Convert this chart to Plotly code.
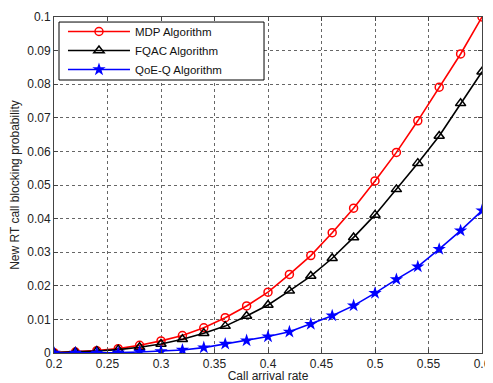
import plotly.graph_objects as go

x_rate = [0.20, 0.22, 0.24, 0.26, 0.28, 0.30, 0.32, 0.34, 0.36, 0.38, 0.40,
          0.42, 0.44, 0.46, 0.48, 0.50, 0.52, 0.54, 0.56, 0.58, 0.60]
mdp = [0.0001, 0.0003, 0.0007, 0.0013, 0.0023, 0.0036, 0.0052, 0.0075, 0.0105, 0.0140, 0.0181,
       0.0234, 0.0290, 0.0358, 0.0431, 0.0512, 0.0597, 0.0691, 0.0791, 0.0890, 0.1000]
fqac = [0.0001, 0.0003, 0.0006, 0.0010, 0.0017, 0.0027, 0.0041, 0.0059, 0.0080, 0.0110, 0.0143,
        0.0185, 0.0229, 0.0282, 0.0344, 0.0411, 0.0487, 0.0565, 0.0646, 0.0743, 0.0837]
qoeq = [0.0000, 0.0000, 0.0000, 0.0001, 0.0003, 0.0005, 0.0009, 0.0016, 0.0027, 0.0037, 0.0049,
        0.0063, 0.0086, 0.0111, 0.0141, 0.0178, 0.0219, 0.0257, 0.0309, 0.0364, 0.0424]

x_ticks = [0.2, 0.25, 0.3, 0.35, 0.4, 0.45, 0.5, 0.55, 0.6]
x_ticktext = ["0.2", "0.25", "0.3", "0.35", "0.4", "0.45", "0.5", "0.55", "0.6"]
y_ticks = [0, 0.01, 0.02, 0.03, 0.04, 0.05, 0.06, 0.07, 0.08, 0.09, 0.1]
y_ticktext = ["0", "0.01", "0.02", "0.03", "0.04", "0.05", "0.06", "0.07", "0.08", "0.09", "0.1"]

FONT = "Liberation Sans, Arial"

fig = go.Figure()
fig.add_trace(go.Scatter(x=x_rate, y=mdp, mode="lines+markers", name="MDP Algorithm",
                         line=dict(color="#ff0000", width=1.6),
                         marker=dict(symbol="circle-open", size=8, color="#ff0000", line=dict(width=1.5))))
fig.add_trace(go.Scatter(x=x_rate, y=fqac, mode="lines+markers", name="FQAC Algorithm",
                         line=dict(color="#000000", width=1.6),
                         marker=dict(symbol="triangle-up-open", size=9, color="#000000", line=dict(width=1.5))))
fig.add_trace(go.Scatter(x=x_rate, y=qoeq, mode="lines+markers", name="QoE-Q Algorithm",
                         line=dict(color="#0000ff", width=1.6),
                         marker=dict(symbol="star", size=10, color="#0000ff", line=dict(width=0))))

axis_common = dict(showline=True, linecolor="#444444", linewidth=1, mirror="ticks",
                   ticks="inside", ticklen=4, tickcolor="#444444",
                   showgrid=True, gridcolor="#666666", gridwidth=1, griddash="dot",
                   zeroline=False, automargin=False,
                   tickfont=dict(family=FONT, size=12, color="#222222"))

fig.update_xaxes(range=[0.2, 0.6], tickvals=x_ticks, ticktext=x_ticktext,
                 title=dict(text="Call arrival rate", font=dict(family=FONT, size=12, color="#222222"),
                            standoff=10),
                 **axis_common)
fig.update_yaxes(range=[0, 0.1], tickvals=y_ticks, ticktext=y_ticktext,
                 title=dict(text="New RT call blocking probability", font=dict(family=FONT, size=12, color="#222222"),
                            standoff=8),
                 **axis_common)

# legend frame (MATLAB-style box, wider than its entries)
fig.add_shape(type="rect", xref="paper", yref="paper",
              x0=0.0117, x1=0.4907, y0=0.8125, y1=0.985,
              line=dict(color="#000000", width=1), fillcolor="white", layer="above")

fig.update_layout(
    width=485, height=375,
    margin=dict(l=46, r=11, t=9, b=30),
    paper_bgcolor="white", plot_bgcolor="white",
    showlegend=True,
    legend=dict(x=0.021, y=1.0, xanchor="left", yanchor="top",
                bgcolor="rgba(0,0,0,0)", borderwidth=0,
                font=dict(family=FONT, size=11.5, color="#111111"),
                itemwidth=62, tracegroupgap=0),
)

fig.write_html("out.html")
